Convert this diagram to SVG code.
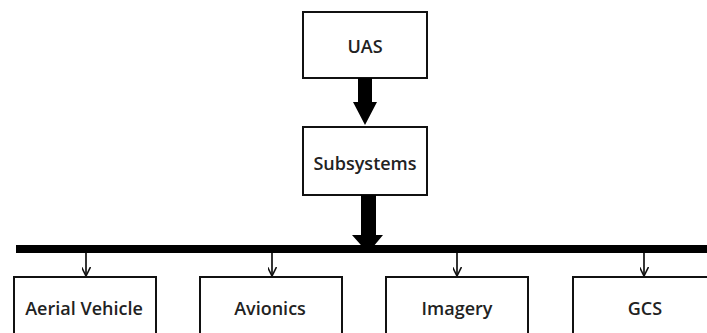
<svg xmlns="http://www.w3.org/2000/svg" width="707" height="333" viewBox="0 0 707 333">
<style>
.box{fill:#fff;stroke:#111;stroke-width:2}
.lbl{font-family:"Open Sans","Liberation Sans",sans-serif;font-size:18px;font-weight:600;fill:#222;text-anchor:middle}
.thin{stroke:#111;stroke-width:1.7;fill:none}
</style>
<defs>
<marker id="v" viewBox="0 0 10 10" refX="10" refY="5" markerWidth="9" markerHeight="9" markerUnits="userSpaceOnUse" orient="auto">
<path d="M0,0 L10,5 L0,10" fill="none" stroke="#111" stroke-width="1.8"/>
</marker>
</defs>
<g id="uas"><rect class="box" x="303" y="12" width="124" height="66"/><text class="lbl" x="365" y="53">UAS</text></g>
<g id="subsystems"><rect class="box" x="303" y="127" width="124" height="68"/><text class="lbl" x="365" y="170">Subsystems</text></g>
<g id="aerial"><rect class="box" x="14" y="277" width="142" height="70"/><text class="lbl" x="84" y="315">Aerial Vehicle</text></g>
<g id="avionics"><rect class="box" x="200" y="277" width="142" height="70"/><text class="lbl" x="270" y="315">Avionics</text></g>
<g id="imagery"><rect class="box" x="386" y="277" width="142" height="70"/><text class="lbl" x="457" y="315">Imagery</text></g>
<g id="gcs"><rect class="box" x="573" y="277" width="142" height="70"/><text class="lbl" x="645" y="315">GCS</text></g>
<g id="connectors">
<polygon points="358,78 372,78 372,102 377,102 365,125 353,102 358,102" fill="#000"/>
<polygon points="361,195 376,195 376,235 383,235 368,253 352,235 361,235" fill="#000"/>
<rect x="16" y="245" width="691" height="8" fill="#000"/>
<line class="thin" x1="86" y1="253" x2="86" y2="276" marker-end="url(#v)"/>
<line class="thin" x1="272" y1="253" x2="272" y2="276" marker-end="url(#v)"/>
<line class="thin" x1="457" y1="253" x2="457" y2="276" marker-end="url(#v)"/>
<line class="thin" x1="644" y1="253" x2="644" y2="276" marker-end="url(#v)"/>
</g>
</svg>
